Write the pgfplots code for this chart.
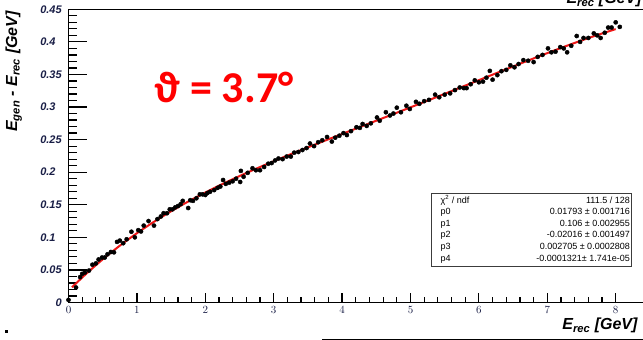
\documentclass[border=0pt]{standalone}
\usepackage{pgfplots}
\pgfplotsset{compat=1.18}
\usepackage{fontspec}
\setmainfont{Liberation Sans}
\newfontfamily\calfont{Carlito}

\definecolor{ticklab}{RGB}{25,30,70}
\definecolor{fitred}{RGB}{238,24,24}
\definecolor{boxgray}{RGB}{60,60,60}

\newcommand{\rootfont}[1]{\fontsize{#1}{#1}\selectfont\bfseries\itshape}

% energy residuals per bin
\pgfplotstableread{
x y
0.00 0.004
0.11 0.023
0.17 0.039
0.20 0.044
0.24 0.046
0.30 0.049
0.35 0.058
0.40 0.060
0.44 0.066
0.49 0.069
0.53 0.069
0.57 0.074
0.62 0.0775
0.665 0.077
0.71 0.093
0.75 0.095
0.80 0.091
0.85 0.097
0.92 0.1086
0.97 0.100
1.02 0.111
1.06 0.109
1.10 0.118
1.17 0.125
1.25 0.118
1.30 0.128
1.35 0.132
1.39 0.137
1.44 0.137
1.48 0.143
1.52 0.143
1.56 0.146
1.60 0.148
1.64 0.151
1.67 0.156
1.75 0.145
1.78 0.157
1.82 0.156
1.87 0.160
1.92 0.166
1.96 0.166
2.00 0.165
2.03 0.168
2.07 0.170
2.13 0.1725
2.18 0.176
2.22 0.178
2.26 0.188
2.30 0.182
2.35 0.184
2.40 0.186
2.45 0.190
2.51 0.185
2.52 0.202
2.56 0.193
2.62 0.199
2.69 0.206
2.74 0.203
2.80 0.203
2.86 0.208
2.92 0.213
2.97 0.214
3.02 0.218
3.07 0.221
3.13 0.220
3.19 0.224
3.25 0.224
3.30 0.230
3.36 0.231
3.42 0.234
3.48 0.237
3.53 0.244
3.59 0.240
3.65 0.246
3.71 0.249
3.78 0.254
3.85 0.247
3.90 0.253
3.96 0.256
4.02 0.260
4.07 0.257
4.13 0.263
4.21 0.269
4.26 0.268
4.30 0.274
4.36 0.271
4.42 0.275
4.51 0.284
4.55 0.279
4.64 0.292
4.70 0.287
4.75 0.290
4.80 0.299
4.86 0.292
4.94 0.302
4.99 0.297
5.08 0.308
5.13 0.305
5.20 0.309
5.27 0.311
5.36 0.319
5.42 0.315
5.50 0.319
5.58 0.321
5.65 0.326
5.72 0.330
5.78 0.329
5.82 0.329
5.88 0.335
5.94 0.341
6.00 0.338
6.06 0.339
6.11 0.345
6.16 0.3555
6.20 0.342
6.27 0.349
6.33 0.355
6.40 0.357
6.46 0.364
6.52 0.361
6.58 0.366
6.65 0.372
6.72 0.371
6.80 0.369
6.86 0.377
6.93 0.380
7.01 0.390
7.06 0.384
7.12 0.385
7.19 0.392
7.24 0.390
7.29 0.384
7.35 0.394
7.43 0.409
7.48 0.400
7.53 0.406
7.60 0.406
7.68 0.413
7.73 0.410
7.78 0.406
7.84 0.414
7.89 0.422
7.94 0.422
8.00 0.430
8.06 0.423
}\datatable

% pol4 fit, sampled
\pgfplotstableread{
x y
0.05 0.02318
0.25 0.04321
0.50 0.06622
0.75 0.08719
1.00 0.10634
1.25 0.12389
1.50 0.14003
1.75 0.15495
2.00 0.16882
2.25 0.18179
2.50 0.19404
2.75 0.20567
3.00 0.21682
3.25 0.22761
3.50 0.23813
3.75 0.24845
4.00 0.25867
4.25 0.26884
4.50 0.27901
4.75 0.28922
5.00 0.29950
5.25 0.30984
5.50 0.32025
5.75 0.33074
6.00 0.34125
6.25 0.35176
6.50 0.36223
6.75 0.37259
7.00 0.38274
7.25 0.39263
7.50 0.40213
7.75 0.41114
8.00 0.41957
}\fittable

\begin{document}
\begin{tikzpicture}[x=1pt,y=1pt]
\useasboundingbox (0,0) rectangle (643,340);

% y axis with long ROOT-style ticks
\begin{axis}[
  at={(68.5pt,37.5pt)}, anchor=south west,
  scale only axis, width=581.4pt, height=293.2pt,
  xmin=0, xmax=8.5, ymin=0, ymax=0.45,
  tick align=inside, tick pos=left,
  xtick=\empty,
  ytick={0,0.05,0.1,0.15,0.2,0.25,0.3,0.35,0.4,0.45},
  yticklabels={\hphantom{0.0}0,0.05,0.1,0.15,0.2,0.25,0.3,0.35,0.4,0.45},
  minor y tick num=4,
  major tick length=18pt, minor tick length=8.5pt,
  tick style={black,line width=1.2pt},
  axis line style={black,line width=0.9pt},
  ticklabel style={font=\rootfont{11}, text=ticklab},
  yticklabel style={anchor=east, inner sep=0pt, text width=23pt, align=left, xshift=-5pt},
]
\end{axis}

% x axis ticks and the data
\begin{axis}[
  at={(68.5pt,37.5pt)}, anchor=south west,
  scale only axis, width=581.4pt, height=293.2pt,
  xmin=0, xmax=8.5, ymin=0, ymax=0.45,
  tick align=inside, tick pos=left,
  ytick=\empty,
  xtick={0,1,2,3,4,5,6,7,8},
  minor x tick num=4,
  major tick length=9pt, minor tick length=5pt,
  tick style={black,line width=1.2pt},
  axis line style={black,line width=0.9pt},
  ticklabel style={font=\rootfont{11}, text=ticklab},
  xticklabel style={inner sep=0pt, yshift=-3.5pt},
  clip=false,
]
\addplot[only marks, mark=*, mark size=2.1pt, black] table[x=x,y=y] {\datatable};
\addplot[fitred, line width=2pt, smooth] table[x=x,y=y] {\fittable};
\end{axis}

% axis titles
\node[rotate=90, anchor=base, font=\rootfont{16}] at (17,268.5)
  {E\textsubscript{gen} - E\textsubscript{rec} [GeV]};
\node[anchor=base east, font=\rootfont{16}] at (641,10)
  {E\textsubscript{rec} [GeV]};
\node[anchor=base west, font=\rootfont{16}] at (563,336)
  {E\textsubscript{rec} [GeV]};

% angle annotation
\node[anchor=base west, inner sep=0pt, text=red, font=\calfont\bfseries\fontsize{44}{44}\selectfont]
  at (154,237) {ϑ = 3.7°};

% fit statistics box
\fill[white] (431,73.3) rectangle (631.7,146.7);
\draw[boxgray, line width=0.9pt] (431,73.3) rectangle (631.7,146.7);
\begin{scope}[every node/.style={inner sep=0pt, font=\fontsize{9}{9}\selectfont}]
\node[anchor=base west] at (440.5,136.8) {χ\textsuperscript{2} / ndf};
\node[anchor=base east] at (630,136.8) {111.5 / 128};
\node[anchor=base west] at (440.5,125.2) {p0};
\node[anchor=base east] at (630,125.2) {0.01793 ± 0.001716};
\node[anchor=base west] at (440.5,113.6) {p1};
\node[anchor=base east] at (630,113.6) {0.106 ± 0.002955};
\node[anchor=base west] at (440.5,102.0) {p2};
\node[anchor=base east] at (630,102.0) {-0.02016 ± 0.001497};
\node[anchor=base west] at (440.5,90.4) {p3};
\node[anchor=base east] at (630,90.4) {0.002705 ± 0.0002808};
\node[anchor=base west] at (440.5,78.8) {p4};
\node[anchor=base east] at (630,78.8) {-0.0001321± 1.741e-05};
\end{scope}

% stray marks along the lower edge
\fill[black] (4.5,6.5) rectangle (7.5,9.5);
\draw[black, line width=1pt] (322,0.6) -- (643,0.6);
\end{tikzpicture}
\end{document}
